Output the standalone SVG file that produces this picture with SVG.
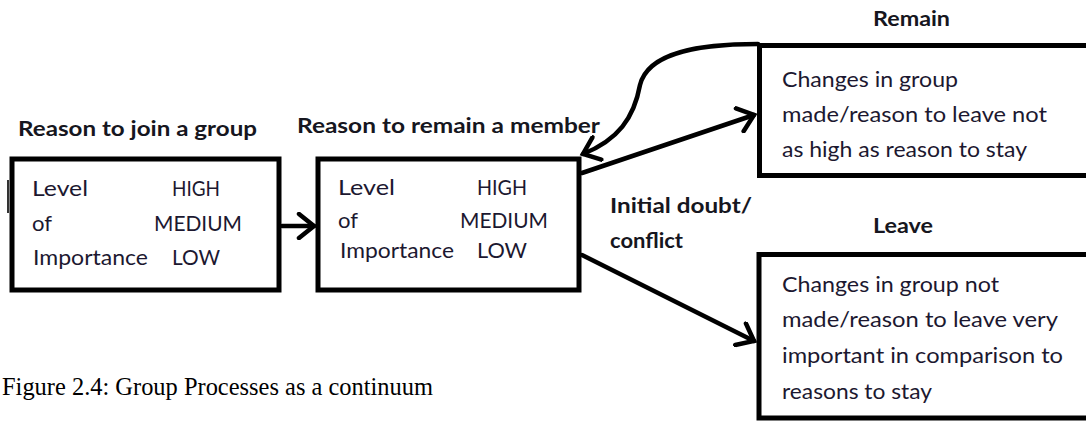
<svg xmlns="http://www.w3.org/2000/svg" width="1086" height="422" viewBox="0 0 1086 422">
  <style>
    .box { fill: #ffffff; stroke: #000000; stroke-width: 5; }
    .edge { fill: none; stroke: #000000; stroke-width: 4.5; stroke-linecap: round; }
    .head { font-family: Lato, "Open Sans", "Liberation Sans", sans-serif; font-weight: bold; font-size: 21px; fill: #161620; }
    .body { font-family: Lato, "Open Sans", "Liberation Sans", sans-serif; font-size: 21px; fill: #1c1830; }
    .caption { font-family: "Liberation Serif", "Times New Roman", serif; font-size: 24.5px; fill: #000000; }
  </style>
  <defs>
    <marker id="chevron" viewBox="-18 -14 22 28" refX="0" refY="0" markerWidth="22" markerHeight="28" markerUnits="userSpaceOnUse" orient="auto">
      <path d="M-15,-12 L0,0 L-15,12" fill="none" stroke="#000000" stroke-width="4.5" stroke-linecap="round" stroke-linejoin="miter"/>
    </marker>
  </defs>

  <rect width="1086" height="422" fill="#ffffff"/>

  <!-- headings above the first two boxes -->
  <text class="head" x="18" y="136" textLength="239" lengthAdjust="spacingAndGlyphs">Reason to join a group</text>
  <text class="head" x="297" y="133" textLength="303" lengthAdjust="spacingAndGlyphs">Reason to remain a member</text>

  <!-- joining stage -->
  <g id="join">
    <line x1="8" y1="180" x2="8" y2="213" stroke="#333333" stroke-width="2"/>
    <rect class="box" x="12" y="159" width="267" height="131"/>
    <text class="body" x="32" y="196" textLength="56" lengthAdjust="spacingAndGlyphs">Level</text>
    <text class="body" x="172" y="196" textLength="48" lengthAdjust="spacingAndGlyphs">HIGH</text>
    <text class="body" x="32" y="231" textLength="20" lengthAdjust="spacingAndGlyphs">of</text>
    <text class="body" x="154" y="231" textLength="88" lengthAdjust="spacingAndGlyphs">MEDIUM</text>
    <text class="body" x="33" y="265" textLength="115" lengthAdjust="spacingAndGlyphs">Importance</text>
    <text class="body" x="172" y="265" textLength="48" lengthAdjust="spacingAndGlyphs">LOW</text>
  </g>

  <!-- remaining stage -->
  <g id="member">
    <rect class="box" x="318" y="159" width="261" height="131"/>
    <text class="body" x="338" y="195" textLength="57" lengthAdjust="spacingAndGlyphs">Level</text>
    <text class="body" x="477" y="195" textLength="50" lengthAdjust="spacingAndGlyphs">HIGH</text>
    <text class="body" x="338" y="228" textLength="20" lengthAdjust="spacingAndGlyphs">of</text>
    <text class="body" x="460" y="228" textLength="88" lengthAdjust="spacingAndGlyphs">MEDIUM</text>
    <text class="body" x="340" y="258" textLength="114" lengthAdjust="spacingAndGlyphs">Importance</text>
    <text class="body" x="477" y="258" textLength="50" lengthAdjust="spacingAndGlyphs">LOW</text>
  </g>

  <!-- outcome: remain -->
  <g id="remain">
    <text class="head" x="873" y="26" textLength="77" lengthAdjust="spacingAndGlyphs">Remain</text>
    <path class="box" d="M1090,45.5 L759.5,45.5 L759.5,175.5 L1090,175.5"/>
    <text class="body" x="782" y="87" textLength="176" lengthAdjust="spacingAndGlyphs">Changes in group</text>
    <text class="body" x="782" y="122" textLength="265" lengthAdjust="spacingAndGlyphs">made/reason to leave not</text>
    <text class="body" x="782" y="157" textLength="245" lengthAdjust="spacingAndGlyphs">as high as reason to stay</text>
  </g>

  <!-- outcome: leave -->
  <g id="leave">
    <text class="head" x="873" y="233" textLength="60" lengthAdjust="spacingAndGlyphs">Leave</text>
    <path class="box" d="M1090,254.5 L759,254.5 L759,418 L1090,418"/>
    <text class="body" x="782" y="292" textLength="217" lengthAdjust="spacingAndGlyphs">Changes in group not</text>
    <text class="body" x="782" y="327" textLength="276" lengthAdjust="spacingAndGlyphs">made/reason to leave very</text>
    <text class="body" x="782" y="363" textLength="281" lengthAdjust="spacingAndGlyphs">important in comparison to</text>
    <text class="body" x="782" y="399" textLength="150" lengthAdjust="spacingAndGlyphs">reasons to stay</text>
  </g>

  <!-- label on the branching point -->
  <g id="doubt">
    <text class="head" x="610" y="213" textLength="142" lengthAdjust="spacingAndGlyphs">Initial doubt/</text>
    <text class="head" x="610" y="248" textLength="73" lengthAdjust="spacingAndGlyphs">conflict</text>
  </g>

  <!-- connectors -->
  <g id="connectors">
    <line class="edge" x1="282" y1="226" x2="314" y2="226" marker-end="url(#chevron)"/>
    <line class="edge" x1="582" y1="173" x2="754" y2="115" marker-end="url(#chevron)"/>
    <line class="edge" x1="582" y1="255" x2="754" y2="341" marker-end="url(#chevron)"/>
    <path class="edge" d="M758,44 C700,44 648,52 640,85 C634,118 618,140 583,154" marker-end="url(#chevron)"/>
  </g>

  <text class="caption" x="2" y="395" textLength="431" lengthAdjust="spacingAndGlyphs">Figure 2.4: Group Processes as a continuum</text>
</svg>
